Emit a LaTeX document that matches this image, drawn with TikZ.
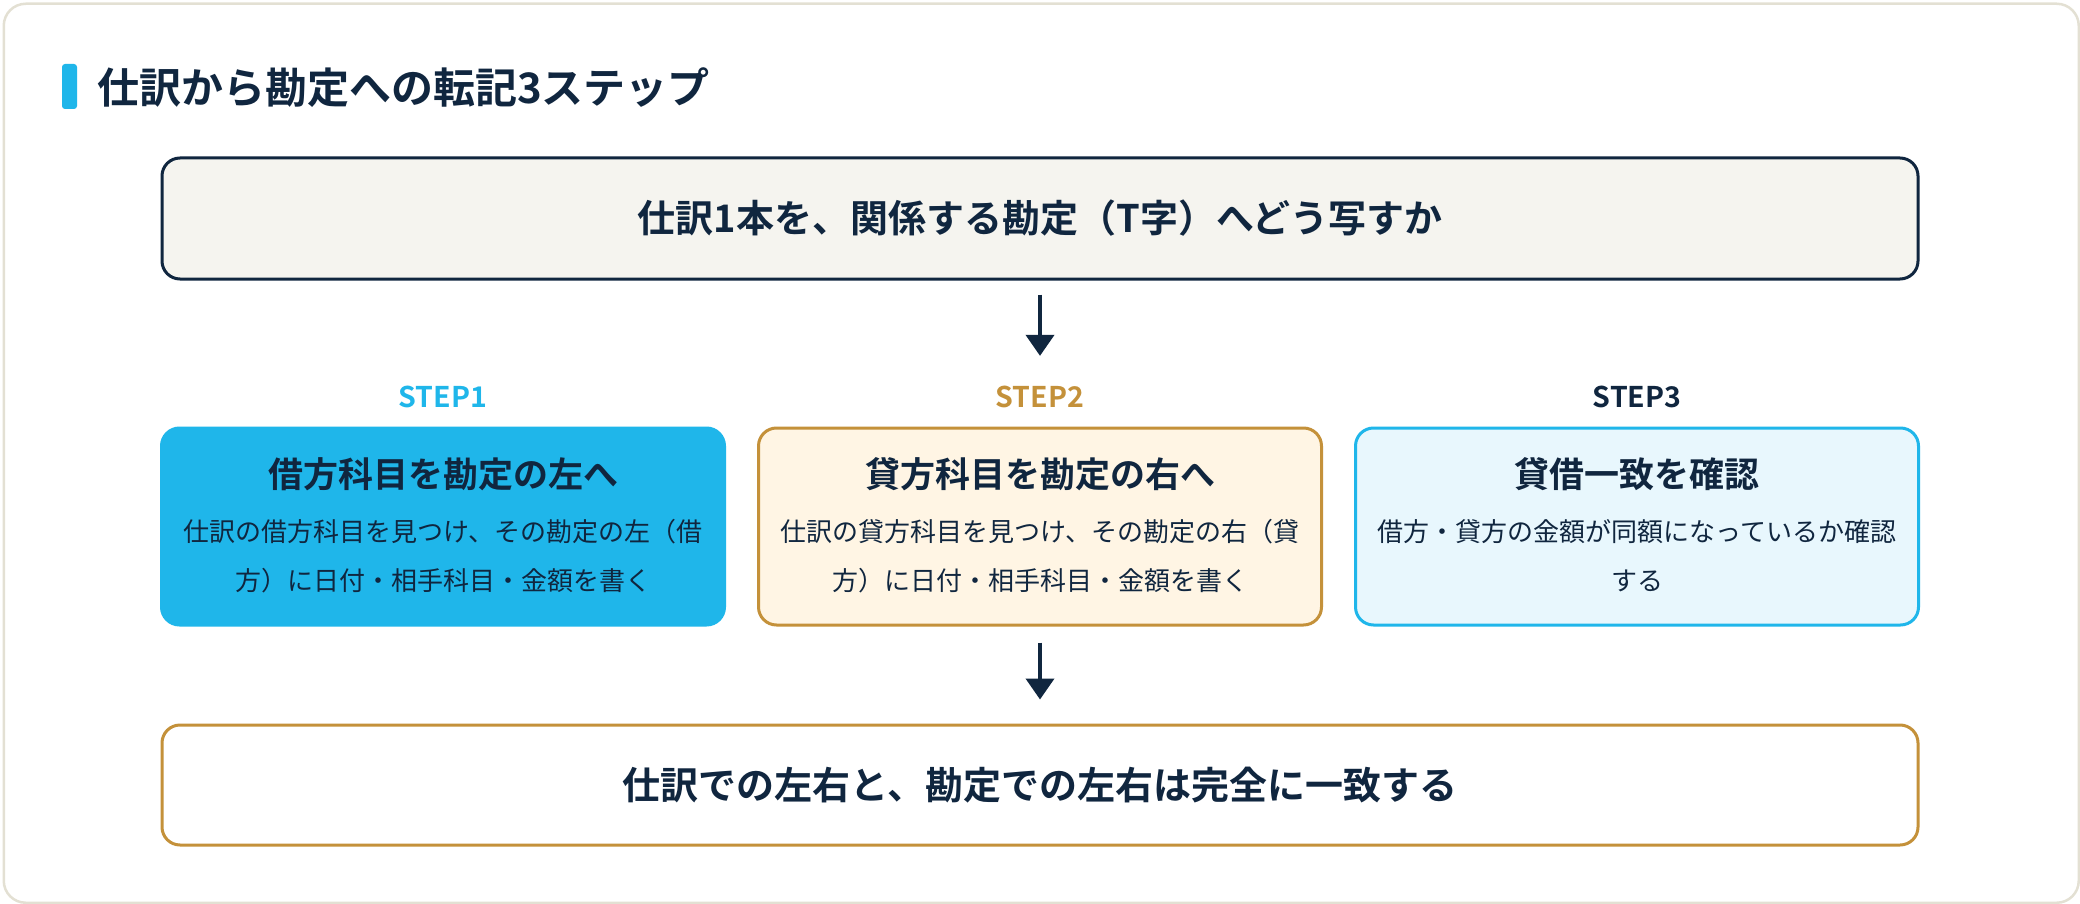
\documentclass[tikz,border=0pt]{standalone}
\usepackage{fontspec}
\setmainfont{Noto Sans CJK JP}[BoldFont={* Bold}]
\usetikzlibrary{arrows.meta}
\definecolor{navy}{HTML}{10263F}
\definecolor{cyanc}{HTML}{1FB6EA}
\definecolor{goldc}{HTML}{C4913A}
\definecolor{topfill}{HTML}{F5F4EF}
\definecolor{goldfill}{HTML}{FFF5E4}
\definecolor{cyanfill}{HTML}{E8F7FD}
\definecolor{cardline}{HTML}{E3E0D3}
\tikzset{
  bigbox/.style={line width=3pt, rounded corners=18pt, minimum width=1756pt, inner sep=0pt, text=navy, font=\fontsize{38}{46}\selectfont\bfseries},
  stepbox/.style={line width=3pt, rounded corners=18pt, minimum width=563pt, minimum height=197pt, inner sep=0pt},
  steplabel/.style={inner sep=0pt, font=\fontsize{28.5}{32}\selectfont\bfseries},
  steptitle/.style={inner sep=0pt, text=navy, font=\fontsize{35}{40}\selectfont\bfseries},
  stepbody/.style={inner sep=0pt, text=navy, align=center, font=\fontsize{26}{49}\selectfont},
  flow/.style={draw=navy, line width=4pt, -{Triangle[width=28pt,length=21pt]}}
}
\begin{document}
\begin{tikzpicture}[x=1pt,y=-1pt]
\useasboundingbox (0,0) rectangle (2080,904);
\node[draw=cardline, line width=2.5pt, fill=white, rounded corners=22pt, minimum width=2075pt, minimum height=899pt, anchor=north west, inner sep=0pt] (card) at (2.5,2.5) {};
\node[fill=cyanc, rounded corners=3pt, minimum width=15pt, minimum height=45pt, inner sep=0pt] (accent) at (69.5,86.5) {};
\node[anchor=west, inner sep=0pt, text=navy, font=\fontsize{42}{50}\selectfont\bfseries] (title) at (97,88) {仕訳から勘定への転記3ステップ};

\node[bigbox, draw=navy, fill=topfill, minimum height=121pt] (top) at (1040,218.5) {仕訳1本を、関係する勘定（T字）へどう写すか};

\node[steplabel, text=cyanc] (l1) at (443,397) {STEP1};
\node[steplabel, text=goldc] (l2) at (1040,397) {STEP2};
\node[steplabel, text=navy] (l3) at (1637,397) {STEP3};

\node[stepbox, draw=cyanc, fill=cyanc] (s1) at (443,526.5) {};
\node[stepbox, draw=goldc, fill=goldfill] (s2) at (1040,526.5) {};
\node[stepbox, draw=cyanc, fill=cyanfill] (s3) at (1637,526.5) {};

\node[steptitle] (s1t) at (443,474) {借方科目を勘定の左へ};
\node[steptitle] (s2t) at (1040,474) {貸方科目を勘定の右へ};
\node[steptitle] (s3t) at (1637,474) {貸借一致を確認};

\node[stepbody] (s1b) at (443,556) {仕訳の借方科目を見つけ、その勘定の左（借\\方）に日付・相手科目・金額を書く};
\node[stepbody] (s2b) at (1040,556) {仕訳の貸方科目を見つけ、その勘定の右（貸\\方）に日付・相手科目・金額を書く};
\node[stepbody] (s3b) at (1637,556) {借方・貸方の金額が同額になっているか確認\\する};

\node[bigbox, draw=goldc, fill=white, minimum height=120pt] (bottom) at (1040,785) {仕訳での左右と、勘定での左右は完全に一致する};

\draw[flow, shorten <=14pt, shorten >=30pt] (top.south) -- (l2.north);
\draw[flow, shorten <=16pt, shorten >=24pt] (s2.south) -- (bottom.north);
\end{tikzpicture}
\end{document}
